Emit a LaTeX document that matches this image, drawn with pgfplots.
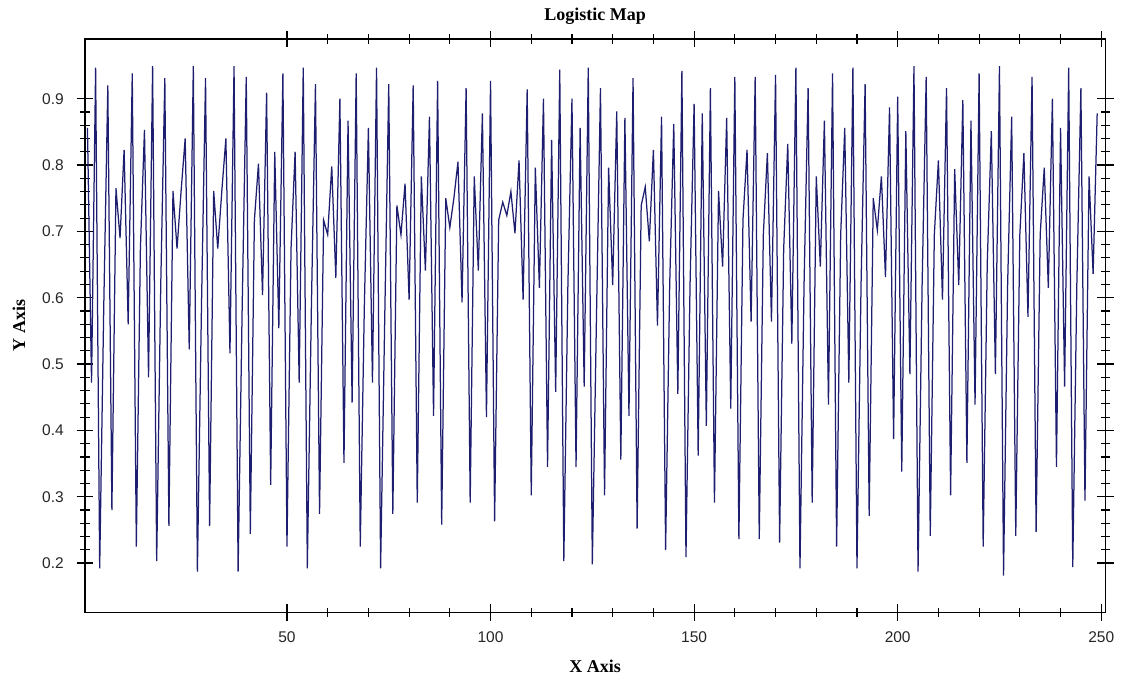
\documentclass[border=0pt]{standalone}
\usepackage{fontspec}
\setmainfont{Liberation Serif}
\newfontfamily\ticksans{Liberation Sans}
\usepackage{pgfplots}
\pgfplotsset{compat=1.18}
\definecolor{linenavy}{RGB}{30,30,112}
\pgfplotstableread{
x y
1 0.856
2 0.472
3 0.947
4 0.192
5 0.586
6 0.920
7 0.280
8 0.765
9 0.690
10 0.823
11 0.560
12 0.938
13 0.225
14 0.674
15 0.853
16 0.480
17 0.949
18 0.203
19 0.619
20 0.931
21 0.256
22 0.761
23 0.674
24 0.761
25 0.840
26 0.522
27 0.949
28 0.187
29 0.586
30 0.931
31 0.256
32 0.761
33 0.674
34 0.761
35 0.840
36 0.516
37 0.949
38 0.187
39 0.586
40 0.933
41 0.244
42 0.717
43 0.802
44 0.604
45 0.909
46 0.318
47 0.820
48 0.554
49 0.938
50 0.225
51 0.674
52 0.820
53 0.472
54 0.947
55 0.192
56 0.586
57 0.922
58 0.274
59 0.717
60 0.695
61 0.798
62 0.630
63 0.900
64 0.351
65 0.867
66 0.442
67 0.938
68 0.225
69 0.586
70 0.856
71 0.472
72 0.947
73 0.192
74 0.564
75 0.922
76 0.274
77 0.739
78 0.695
79 0.772
80 0.597
81 0.920
82 0.291
83 0.783
84 0.641
85 0.873
86 0.422
87 0.927
88 0.258
89 0.750
90 0.706
91 0.750
92 0.805
93 0.593
94 0.916
95 0.291
96 0.783
97 0.641
98 0.878
99 0.420
100 0.927
101 0.263
102 0.717
103 0.744
104 0.724
105 0.760
106 0.697
107 0.807
108 0.597
109 0.914
110 0.302
111 0.796
112 0.615
113 0.900
114 0.345
115 0.838
116 0.458
117 0.944
118 0.203
119 0.619
120 0.900
121 0.345
122 0.856
123 0.466
124 0.947
125 0.198
126 0.564
127 0.916
128 0.302
129 0.796
130 0.619
131 0.881
132 0.356
133 0.871
134 0.422
135 0.931
136 0.252
137 0.739
138 0.767
139 0.685
140 0.823
141 0.558
142 0.873
143 0.220
144 0.619
145 0.862
146 0.455
147 0.942
148 0.209
149 0.619
150 0.892
151 0.362
152 0.878
153 0.407
154 0.916
155 0.291
156 0.761
157 0.647
158 0.871
159 0.433
160 0.933
161 0.236
162 0.717
163 0.823
164 0.564
165 0.933
166 0.236
167 0.695
168 0.818
169 0.564
170 0.936
171 0.231
172 0.674
173 0.832
174 0.531
175 0.947
176 0.192
177 0.619
178 0.916
179 0.291
180 0.783
181 0.647
182 0.867
183 0.439
184 0.938
185 0.225
186 0.695
187 0.856
188 0.472
189 0.947
190 0.192
191 0.619
192 0.922
193 0.271
194 0.750
195 0.702
196 0.783
197 0.631
198 0.887
199 0.387
200 0.903
201 0.338
202 0.851
203 0.485
204 0.949
205 0.187
206 0.619
207 0.933
208 0.241
209 0.695
210 0.807
211 0.597
212 0.916
213 0.302
214 0.794
215 0.619
216 0.898
217 0.351
218 0.867
219 0.439
220 0.938
221 0.225
222 0.652
223 0.851
224 0.485
225 0.949
226 0.181
227 0.619
228 0.873
229 0.241
230 0.695
231 0.818
232 0.571
233 0.933
234 0.247
235 0.695
236 0.796
237 0.615
238 0.900
239 0.345
240 0.856
241 0.466
242 0.947
243 0.194
244 0.619
245 0.916
246 0.294
247 0.783
248 0.636
249 0.878
}\logdata
\begin{document}
\begin{tikzpicture}
\useasboundingbox (-51pt,-41pt) rectangle (622pt,367.2pt);
\begin{axis}[
  at={(0pt,0pt)}, anchor=south west,
  scale only axis, width=612pt, height=343.8pt,
  xmin=0.4, xmax=251, ymin=0.126, ymax=0.99,
  xtick={50,100,150,200,250}, minor x tick num=4,
  ytick={0.2,0.3,0.4,0.5,0.6,0.7,0.8,0.9}, minor y tick num=4,
  y tick label style={/pgf/number format/fixed, /pgf/number format/fixed zerofill, /pgf/number format/precision=1},
  /pgf/number format/assume math mode=true,
  tick align=center,
  major tick length=10pt, minor tick length=5.5pt,
  tick style={black, line width=0.7pt},
  axis line style={black, line width=0.8pt},
  tick label style={font=\ticksans\fontsize{9.3}{11}\selectfont, text=black!85},
  x tick label style={anchor=center, yshift=-10pt},
  y tick label style={anchor=east, xshift=-4.2pt},
  title={\textbf{Logistic Map}},
  title style={at={(axis description cs:0.5,1.022)}, anchor=center, font=\fontsize{10.8}{12}\selectfont},
  xlabel={\textbf{X Axis}},
  xlabel style={at={(axis description cs:0.5,-0.094)}, anchor=center, font=\fontsize{10.8}{12}\selectfont},
  ylabel={\textbf{Y Axis}},
  ylabel style={at={(axis description cs:-0.0647,0.5)}, anchor=center, font=\fontsize{10.8}{12}\selectfont},
]
\addplot[linenavy, line width=0.75pt] table[x=x, y=y] {\logdata};
\end{axis}
\end{tikzpicture}
\end{document}
